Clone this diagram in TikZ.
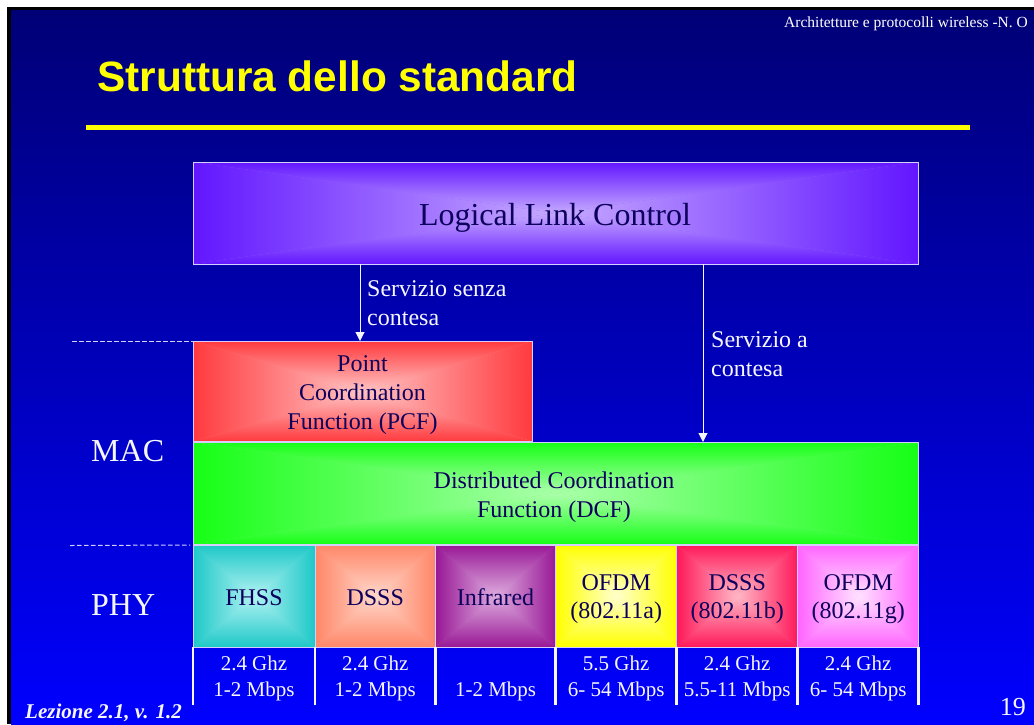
\documentclass[tikz,border=0pt]{standalone}
\usepackage{fontspec}
\setmainfont{Liberation Serif}
\newfontfamily\titlefont{Liberation Sans}
\usetikzlibrary{arrows.meta}
\definecolor{bgtop}{RGB}{0,0,118}
\definecolor{bgbot}{RGB}{0,0,255}
\definecolor{ttlyellow}{RGB}{255,255,0}
\definecolor{boxline}{RGB}{214,206,255}
\definecolor{inktext}{RGB}{12,0,92}
\definecolor{paletext}{RGB}{246,246,255}
\definecolor{llcE}{RGB}{98,22,255}
\definecolor{llcC}{RGB}{198,170,255}
\definecolor{pcfE}{RGB}{255,58,62}
\definecolor{pcfC}{RGB}{255,196,196}
\definecolor{dcfE}{RGB}{22,255,22}
\definecolor{dcfC}{RGB}{172,255,172}
\definecolor{fhE}{RGB}{30,200,200}
\definecolor{fhC}{RGB}{178,242,242}
\definecolor{dsE}{RGB}{255,134,104}
\definecolor{dsC}{RGB}{255,216,202}
\definecolor{irE}{RGB}{152,24,150}
\definecolor{irC}{RGB}{222,172,222}
\definecolor{oaE}{RGB}{255,255,0}
\definecolor{oaC}{RGB}{255,255,205}
\definecolor{dbE}{RGB}{255,24,90}
\definecolor{dbC}{RGB}{255,184,198}
\definecolor{ogE}{RGB}{255,100,255}
\definecolor{ogC}{RGB}{255,226,255}
\newcommand\gradfill[2]{%
  \path (path picture bounding box.north west) coordinate (gNW)
        (path picture bounding box.north east) coordinate (gNE)
        (path picture bounding box.south west) coordinate (gSW)
        (path picture bounding box.south east) coordinate (gSE)
        (path picture bounding box.center) coordinate (gC);
  \fill[#1!50!#2] (gNW) rectangle (gSE);
  \shade[top color=#1,bottom color=#2] (gNW) -- (gNE) -- (gC) -- cycle;
  \shade[top color=#2,bottom color=#1] (gSW) -- (gSE) -- (gC) -- cycle;
  \shade[left color=#1,right color=#2] (gNW) -- (gSW) -- (gC) -- cycle;
  \shade[left color=#2,right color=#1] (gNE) -- (gSE) -- (gC) -- cycle;
}
\tikzset{
  box/.style={draw=boxline, line width=0.8pt, inner sep=0pt, outer sep=0pt, anchor=north west},
  rg/.style 2 args={path picture={\gradfill{#1}{#2}}},
  boxtxt/.style={inner sep=0pt, text=inktext, align=center, font=\fontsize{24}{29}\selectfont},
  phytxt/.style={inner sep=0pt, text=inktext, align=center, font=\fontsize{24}{27.5}\selectfont},
  lbl/.style={inner sep=0pt, text=paletext, align=left, font=\fontsize{24}{29}\selectfont},
  big/.style={inner sep=0pt, text=paletext, font=\fontsize{32}{38}\selectfont},
  rate/.style={inner sep=0pt, text=paletext, align=center, font=\fontsize{21}{26}\selectfont},
  arr/.style={draw=paletext, line width=1pt, -{Triangle[width=9pt,length=9pt]}},
  dsh/.style={draw=boxline, line width=1pt, dash pattern=on 4.5pt off 2.5pt},
  bar/.style={draw=paletext, line width=2.6pt},
}
\begin{document}
\begin{tikzpicture}[x=1pt,y=-1pt]
\path[use as bounding box] (0,0) rectangle (1034,724);
\clip (0,0) rectangle (1034,724);
% background
\fill[white] (0,0) rectangle (1034,724);
\fill[black] (6.5,7) rectangle (1034,724);
\shade[top color=bgtop,bottom color=bgbot] (11,10) rectangle (1034,724);
% header and title
\node[anchor=base west, inner sep=0pt, text=white, font=\fontsize{15.5}{18}\selectfont] (hdr) at (784,27.3) {Architetture e protocolli wireless -N. O};
\node[anchor=base west, inner sep=0pt, text=ttlyellow, font=\titlefont\bfseries\fontsize{42.4}{50}\selectfont] (title) at (97,91.7) {Struttura dello standard};
\fill[ttlyellow] (86,125) rectangle (970,130);
% LLC
\node[box, rg={llcE}{llcC}, minimum width=725.5pt, minimum height=102pt] (llc) at (193,162) {};
\node[anchor=base, inner sep=0pt, text=inktext, font=\fontsize{32}{38}\selectfont] (llct) at (555,225) {Logical Link Control};
% PCF
\node[box, rg={pcfE}{pcfC}, minimum width=339.5pt, minimum height=100.5pt] (pcf) at (193,341) {};
\node[boxtxt] (pcft) at (362.5,394.7) {Point\\Coordination\\Function (PCF)};
% DCF
\node[box, rg={dcfE}{dcfC}, minimum width=725.5pt, minimum height=102.5pt] (dcf) at (193,442) {};
\node[boxtxt] (dcft) at (554,496.8) {Distributed Coordination\\Function (DCF)};
% PHY boxes
\node[box, rg={fhE}{fhC}, minimum width=122pt, minimum height=102pt] (fh) at (193,545) {};
\node[box, rg={dsE}{dsC}, minimum width=120.5pt, minimum height=102pt] (ds) at (315,545) {};
\node[box, rg={irE}{irC}, minimum width=120.2pt, minimum height=102pt] (ir) at (435.5,545) {};
\node[box, rg={oaE}{oaC}, minimum width=121pt, minimum height=102pt] (oa) at (555.7,545) {};
\node[box, rg={dbE}{dbC}, minimum width=121pt, minimum height=102pt] (db) at (676.7,545) {};
\node[box, rg={ogE}{ogC}, minimum width=121pt, minimum height=102pt] (og) at (797.7,545) {};
\node[phytxt, anchor=base] (fht) at (fh.center |- 0,605) {FHSS};
\node[phytxt, anchor=base] (dst) at (ds.center |- 0,605) {DSSS};
\node[phytxt, anchor=base] (irt) at (ir.center |- 0,605) {Infrared};
\node[phytxt] (oat) at (oa.center |- 0,599) {OFDM\\(802.11a)};
\node[phytxt] (dbt) at (db.center |- 0,599) {DSSS\\(802.11b)};
\node[phytxt] (ogt) at (og.center |- 0,599) {OFDM\\(802.11g)};
% separators under PHY
\draw[bar] (fh.south west) -- ++(0,58);
\draw[bar] (ds.south west) -- ++(0,58);
\draw[bar] (ir.south west) -- ++(0,58);
\draw[bar] (oa.south west) -- ++(0,58);
\draw[bar] (db.south west) -- ++(0,58);
\draw[bar] (og.south west) -- ++(0,58);
\draw[bar] (og.south east) -- ++(0,58);
% rates
\node[rate] (fhr) at (fh.center |- 0,678.9) {2.4 Ghz\\1-2 Mbps};
\node[rate] (dsr) at (ds.center |- 0,678.9) {2.4 Ghz\\1-2 Mbps};
\node[rate, anchor=base] (irr) at (ir.center |- 0,696.7) {1-2 Mbps};
\node[rate] (oar) at (oa.center |- 0,678.9) {5.5 Ghz\\6- 54 Mbps};
\node[rate] (dbr) at (db.center |- 0,678.9) {2.4 Ghz\\5.5-11 Mbps};
\node[rate] (ogr) at (og.center |- 0,678.9) {2.4 Ghz\\6- 54 Mbps};
% side labels
\node[big, anchor=base west] (mac) at (91,461) {MAC};
\node[big, anchor=base west] (phy) at (91,615) {PHY};
\coordinate (dm) at (72,341);
\coordinate (dp) at (70,545.5);
\draw[dsh] (dm) -- (pcf.north west);
\draw[dsh] (dp) -- ([xshift=-3pt]fh.north west);
% service arrows
\coordinate (ax1) at (360,0);
\coordinate (ax2) at (703,0);
\draw[arr] (llc.south -| ax1) -- (pcf.north -| ax1);
\draw[arr] (llc.south -| ax2) -- (dcf.north -| ax2);
\node[lbl, anchor=west] (s1) at (367,303.2) {Servizio senza\\contesa};
\node[lbl, anchor=west] (s2) at (711,354.2) {Servizio a\\contesa};
% footer
\node[anchor=base west, inner sep=0pt, text=paletext, font=\bfseries\itshape\fontsize{21}{25}\selectfont] (lez) at (25,718) {Lezione 2.1, v. 1.2};
\node[anchor=base east, inner sep=0pt, text=paletext, font=\fontsize{26}{30}\selectfont] (pg) at (1026,715) {19};
\end{tikzpicture}
\end{document}
